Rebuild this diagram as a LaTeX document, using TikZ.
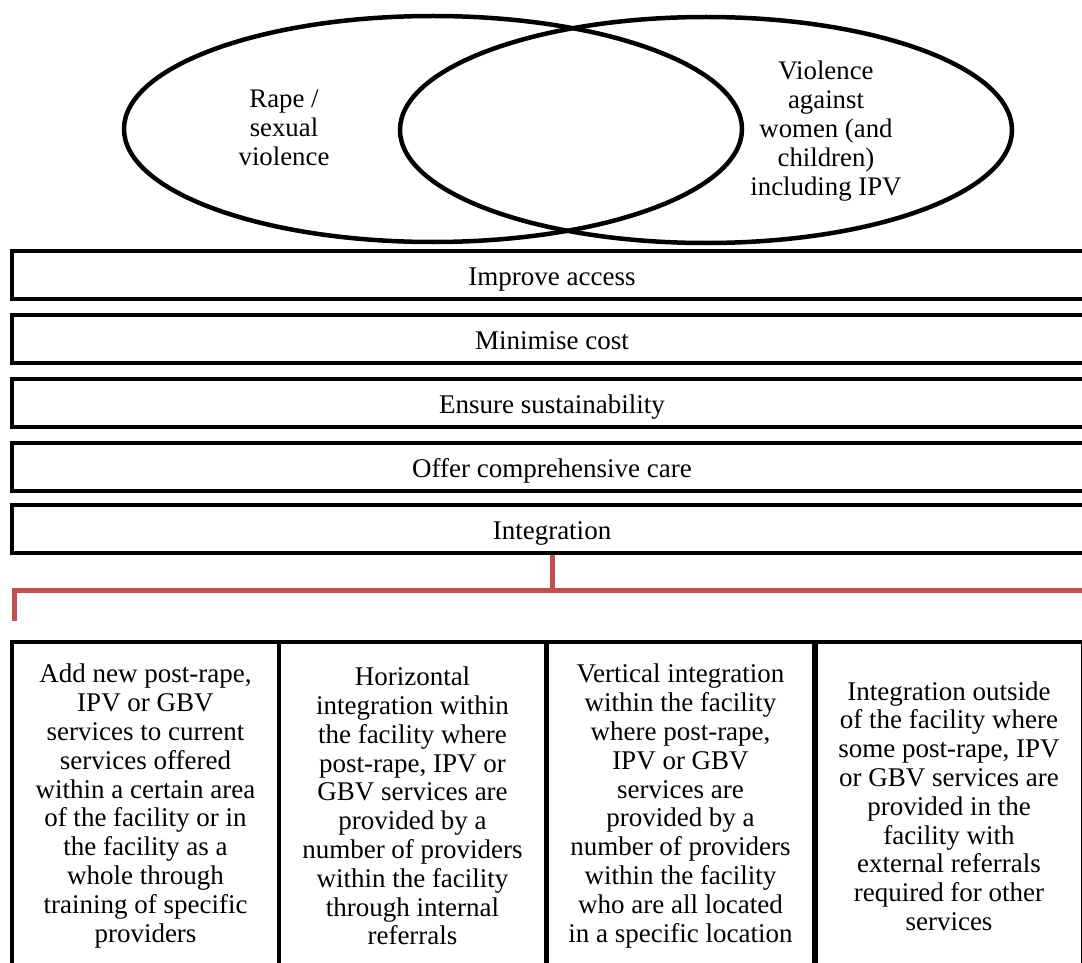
\documentclass[tikz,border=0pt]{standalone}
\usepackage{fontspec}
\setmainfont{Liberation Serif}
\usetikzlibrary{shapes.geometric}
\definecolor{bracketred}{RGB}{192,80,77}
\begin{document}
\begin{tikzpicture}[x=1pt,y=-1pt,
  venn/.style={draw=black,line width=4.5pt,ellipse,inner sep=0pt,minimum width=#1,minimum height=226pt},
  lbl/.style={align=center,inner sep=0pt,font=\fontsize{26.8}{28.8}\selectfont},
  bar/.style={draw=black,line width=4pt,rectangle,inner sep=0pt,minimum width=1080pt,minimum height=48pt,text height=21pt,text depth=0pt,font=\fontsize{27}{28.8}\selectfont},
  col/.style={draw=black,line width=4pt,rectangle,inner sep=0pt,minimum width=267pt,minimum height=328pt,align=center,font=\fontsize{27}{28.8}\selectfont},
  bracket/.style={draw=bracketred,line width=5pt}]
\useasboundingbox (0,0) rectangle (1082,963);
% Venn diagram
\node[venn=618pt] (left) at (433,129) {};
\node[venn=612pt] (right) at (706,130) {};
\node[lbl] (ltext) at (284,128) {Rape /\\sexual\\violence};
\node[lbl] (rtext) at (826,131) {Violence\\against\\women (and\\children)\\including IPV};
% bars
\node[bar] (access) at (552,275) {Improve access};
\node[bar] (cost) at (552,338.5) {Minimise cost};
\node[bar] (sustain) at (552,403) {Ensure sustainability};
\node[bar] (care) at (552,467) {Offer comprehensive care};
\node[bar] (integ) at (552,529) {Integration};
% bracket
\coordinate (stem) at (552,590);
\coordinate (lcorner) at (14,590);
\coordinate (rcorner) at (1090,590);
\coordinate (lend) at (14,621);
\coordinate (rend) at (1090,621);
\draw[bracket] (integ.south) -- (stem);
\draw[bracket] (lend) -- (lcorner) -- (rcorner) -- (rend);
% bottom boxes
\node[col] (c1) at (145.5,806) {Add new post-rape,\\IPV or GBV\\services to current\\services offered\\within a certain area\\of the facility or in\\the facility as a\\whole through\\training of specific\\providers};
\node[col] (c2) at (412.5,806) {Horizontal\\integration within\\the facility where\\post-rape, IPV or\\GBV services are\\provided by a\\number of providers\\within the facility\\through internal\\referrals};
\node[col] (c3) at (680.5,806) {Vertical integration\\within the facility\\where post-rape,\\IPV or GBV\\services are\\provided by a\\number of providers\\within the facility\\who are all located\\in a specific location};
\node[col] (c4) at (949,806) {Integration outside\\of the facility where\\some post-rape, IPV\\or GBV services are\\provided in the\\facility with\\external referrals\\required for other\\services};
\end{tikzpicture}
\end{document}
